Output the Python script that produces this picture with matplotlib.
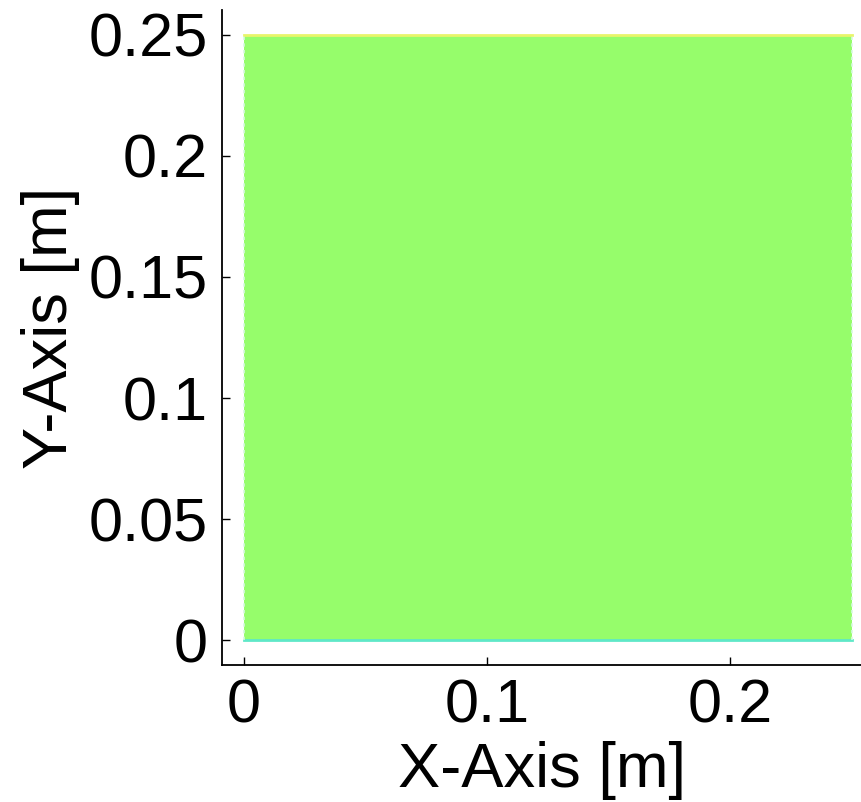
import matplotlib.pyplot as plt
from matplotlib.patches import Rectangle

# domain of the field (square plate)
x_extent = [0.0, 0.25]
y_extent = [0.0, 0.25]
x_ticks = [0, 0.1, 0.2]
x_tick_labels = ["0", "0.1", "0.2"]
y_ticks = [0, 0.05, 0.1, 0.15, 0.2, 0.25]
y_tick_labels = ["0", "0.05", "0.1", "0.15", "0.2", "0.25"]

fill_color = "#96fd6b"
top_edge_color = "#e8f56a"
bottom_edge_color = "#5fe8c8"

plt.rcParams['font.family'] = ['Liberation Sans', 'DejaVu Sans']

fig = plt.figure(figsize=(8.61, 8.02), dpi=100)
ax = fig.add_axes([222 / 861, 1 - 665 / 802, 1 - 222 / 861, 655 / 802])

w = x_extent[1] - x_extent[0]
h = y_extent[1] - y_extent[0]
ax.add_patch(Rectangle((x_extent[0], y_extent[0]), w, h,
                       facecolor=fill_color, edgecolor='none'))
# slightly different coloured rims from the contour edges
ax.plot(x_extent, [y_extent[1]] * 2, color=top_edge_color, lw=2)
ax.plot(x_extent, [y_extent[0]] * 2, color=bottom_edge_color, lw=2)
ax.plot([x_extent[0]] * 2, y_extent, color="#d8f8e0", lw=1.2, ls=(0, (2, 2)))
ax.plot([x_extent[1]] * 2, y_extent, color="#d8f8e0", lw=1.2, ls=(0, (2, 2)))

ax.set_xlim(-0.00905, 0.2539)
ax.set_ylim(-0.0103, 0.2603)
ax.set_xticks(x_ticks)
ax.set_xticklabels(x_tick_labels)
ax.set_yticks(y_ticks)
ax.set_yticklabels(y_tick_labels)
ax.tick_params(direction='in', length=6, width=1, labelsize=44, pad=10)
for s in ['top', 'right']:
    ax.spines[s].set_visible(False)
for s in ['left', 'bottom']:
    ax.spines[s].set_linewidth(1.3)

ax.set_xlabel("X-Axis [m]", fontsize=45.5, labelpad=4)
ax.set_ylabel("Y-Axis [m]", fontsize=45.5)
ax.yaxis.set_label_coords(-0.222, 0.515)

fig.savefig("out.png", dpi=100)
